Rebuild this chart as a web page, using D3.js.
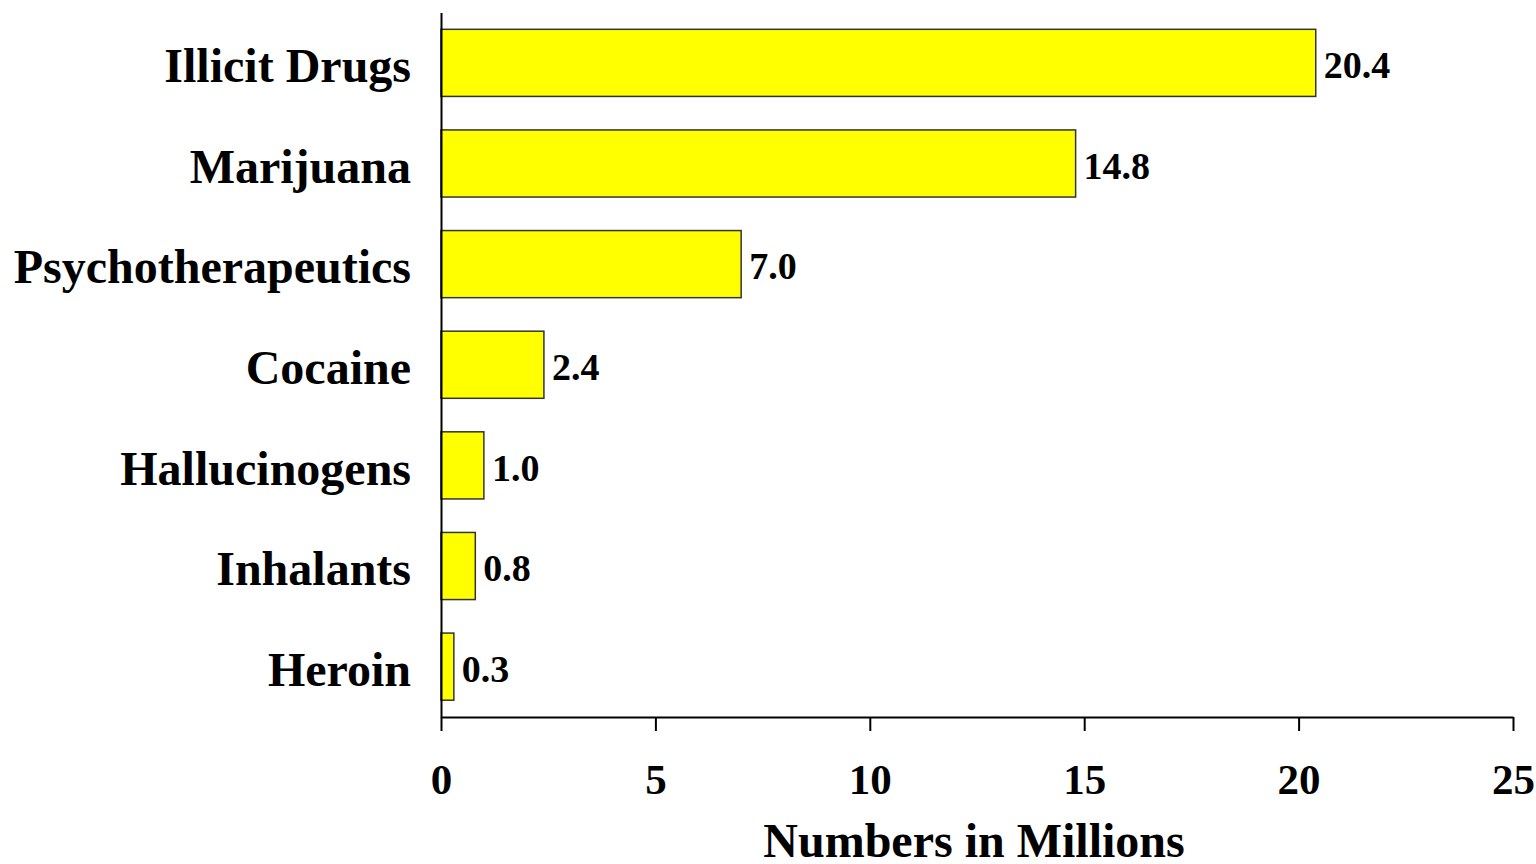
<!DOCTYPE html>
<html>
<head>
  <script src="https://cdnjs.cloudflare.com/ajax/libs/d3/7.8.5/d3.min.js"></script>
  <style>
    body { margin: 0; background: #fff; }
    text { font-family: "Liberation Serif", "Times New Roman", serif; font-weight: bold; fill: #000; }
    .bar { fill: #ffff00; stroke: #333; stroke-width: 1.5px; }
  </style>
</head>
<body>
<svg width="1536" height="864"></svg>
<script>
// drug categories and users (millions)
var categories = ["Illicit Drugs", "Marijuana", "Psychotherapeutics", "Cocaine", "Hallucinogens", "Inhalants", "Heroin"];
var values = [20.4, 14.8, 7.0, 2.4, 1.0, 0.8, 0.3];
var tickValues = [0, 5, 10, 15, 20, 25];

var svg = d3.select("svg");

var x = d3.scaleLinear()
    .domain([0, 25])
    .range([441, 1513]);

var y = d3.scaleBand()
    .domain(categories)
    .range([12.5, 717])
    .paddingInner(0.333)
    .paddingOuter(0.167);

// bars
svg.selectAll(".bar")
    .data(values)
  .enter().append("rect")
    .attr("class", "bar")
    .attr("x", x(0))
    .attr("y", function(d, i) { return y(categories[i]); })
    .attr("width", function(d) { return x(d) - x(0); })
    .attr("height", y.bandwidth());

// value labels
svg.selectAll(".val")
    .data(values)
  .enter().append("text")
    .attr("class", "val")
    .attr("x", function(d) { return x(d) + 8; })
    .attr("y", function(d, i) { return y(categories[i]) + y.bandwidth() / 2 + 2; })
    .attr("dy", "0.35em")
    .style("font-size", "38px")
    .text(function(d) { return d.toFixed(1); });

// x axis
var xAxis = svg.append("g")
    .attr("transform", "translate(0,717)")
    .call(d3.axisBottom(x).tickValues(tickValues).tickSize(14).tickPadding(32).tickSizeOuter(0));
xAxis.select(".domain").attr("stroke", "#000").attr("stroke-width", 2);
xAxis.selectAll(".tick line").attr("stroke", "#000").attr("stroke-width", 2);
xAxis.selectAll(".tick text")
    .style("font-size", "43px")
    .attr("fill", "#000")
    .attr("dy", "0.71em");

// y axis line + category labels
var yAxis = svg.append("g")
    .attr("transform", "translate(441,0)")
    .call(d3.axisLeft(y).tickSize(0).tickPadding(30).tickSizeOuter(0));
yAxis.select(".domain").attr("stroke", "#000").attr("stroke-width", 2);
yAxis.selectAll(".tick text")
    .style("font-size", "48px")
    .attr("fill", "#000")
    .attr("dy", "0.4em");

// axis title
svg.append("text")
    .attr("x", 974)
    .attr("y", 857)
    .attr("text-anchor", "middle")
    .style("font-size", "48px")
    .text("Numbers in Millions");
</script>
</body>
</html>
